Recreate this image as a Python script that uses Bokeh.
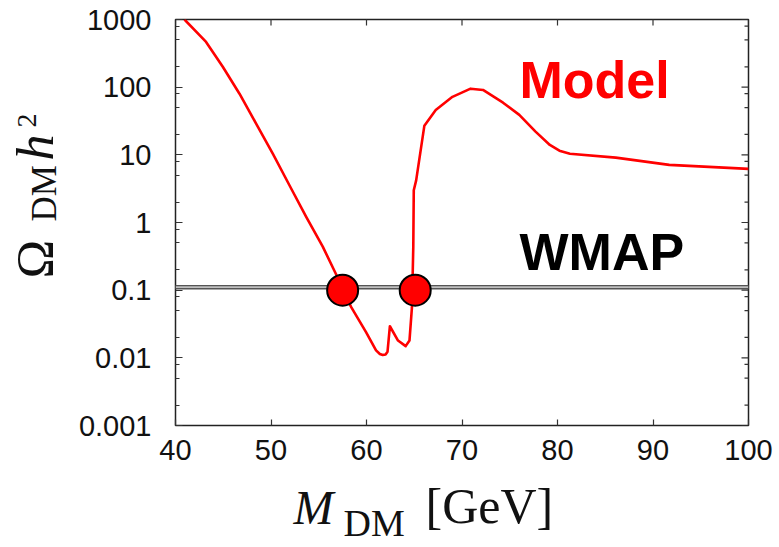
import math
from bokeh.plotting import figure
from bokeh.layouts import row, column
from bokeh.models import FixedTicker, Label, Range1d, Span, BoxAnnotation
from bokeh.embed import file_html
from bokeh.resources import INLINE

# ---------------- data ----------------
mass = [40.94, 43.2, 44.95, 46.7, 48.44, 50.2, 51.93, 53.7, 55.42, 56.8, 57.5, 58.4,
        59.95, 61.0, 61.4, 61.7, 62.0, 62.2, 62.45, 63.3, 64.1, 64.5, 64.76, 64.9, 64.95, 65.2,
        66.06, 67.25, 69.0, 70.9, 72.2, 74.3, 76.0, 77.7, 79.2, 80.2, 81.3, 86.1, 91.7, 100.0]
omega = [1000, 466, 200, 80, 29, 10.3, 3.55, 1.2, 0.44, 0.173, 0.1, 0.056,
         0.024, 0.0129, 0.0114, 0.011, 0.0112, 0.0123, 0.0293, 0.018, 0.0149, 0.018, 0.056, 0.44, 3.0, 4.2,
         27, 46, 72, 95, 91, 59, 39, 22, 14, 11.5, 10.4, 9.1, 7.1, 6.2]

wmap_low = 0.105
wmap_high = 0.117

match_mass = [57.5, 65.1]
match_omega = [0.1, 0.1]

x_ticks = [40, 50, 60, 70, 80, 90, 100]
x_tick_labels = ["40", "50", "60", "70", "80", "90", "100"]
y_ticks = [0.001, 0.01, 0.1, 1, 10, 100, 1000]
y_tick_labels = ["0.001", "0.01", "0.1", "1", "10", "100", "1000"]
y_minor_mult = [2, 5, 8]
y_minor = [m * t for t in y_ticks[:-1] for m in y_minor_mult]

# ---------------- layout (canvas pixels) ----------------
W, H = 779, 547
LW = 75          # strip holding the rotated y title
BH = 72          # strip holding the x title
FL, FR, FT, FB = 173, 746, 19, 425
XMIN, XMAX = x_ticks[0], x_ticks[-1]
YMIN, YMAX = y_ticks[0], y_ticks[-1]
BASE_SHIFT = 0.385   # Bokeh label anchor correction (fraction of font size)


def xd(px):
    return XMIN + (px - FL) * (XMAX - XMIN) / (FR - FL)


def yd(py):
    d = math.log10(YMAX) - math.log10(YMIN)
    return 10 ** (math.log10(YMAX) - (py - FT) * d / (FB - FT))


p = figure(frame_width=FR - FL, frame_height=FB - FT,
           min_border_left=FL - LW, min_border_right=W - FR,
           min_border_top=FT, min_border_bottom=(H - BH) - FB,
           x_range=Range1d(XMIN, XMAX), y_range=Range1d(YMIN, YMAX),
           y_axis_type="log", output_backend="svg", toolbar_location=None)
p.grid.visible = False
p.outline_line_color = "#222222"
p.outline_line_width = 1.5
p.background_fill_color = "white"
p.border_fill_color = "white"

TICK_FONT = "Liberation Sans"
TICK_COLOR = "#333333"


def style_axis(ax, major_in, minor_in, standoff):
    ax.axis_line_color = None
    ax.major_tick_in = major_in
    ax.major_tick_out = 0
    ax.minor_tick_in = minor_in
    ax.minor_tick_out = 0
    ax.major_tick_line_color = TICK_COLOR
    ax.minor_tick_line_color = TICK_COLOR
    ax.major_tick_line_width = 1.2
    ax.minor_tick_line_width = 1.2
    ax.major_label_standoff = standoff
    ax.axis_label = None
    ax.major_label_text_font = TICK_FONT
    ax.major_label_text_font_size = "29px"
    ax.major_label_text_color = "#111111"


xa = p.xaxis[0]
xa.ticker = FixedTicker(ticks=x_ticks, minor_ticks=[])
xa.major_label_overrides = dict(zip(x_ticks, x_tick_labels))
style_axis(xa, 6, 0, 14)

ya = p.yaxis[0]
ya.ticker = FixedTicker(ticks=y_ticks, minor_ticks=y_minor)
ya.major_label_overrides = dict(zip(y_ticks, y_tick_labels))
style_axis(ya, 7, 4, 24)

# mirrored inward ticks on top and right edges (half of each dash is clipped by the frame)
p.scatter(x_ticks, [YMAX] * len(x_ticks), marker="dash", angle=math.pi / 2, size=12,
          line_color=TICK_COLOR, line_width=1.2)
p.scatter([XMAX] * len(y_ticks), y_ticks, marker="dash", size=14,
          line_color=TICK_COLOR, line_width=1.2)
p.scatter([XMAX] * len(y_minor), y_minor, marker="dash", size=8,
          line_color=TICK_COLOR, line_width=1.2)

# WMAP band
p.add_layout(BoxAnnotation(bottom=wmap_low, top=wmap_high, fill_color="#c0c0c0",
                           fill_alpha=1.0, line_color=None, level="underlay"))
for v in (wmap_low, wmap_high):
    p.add_layout(Span(location=v, dimension="width", line_color="#555555",
                      line_width=1.3, level="underlay"))

# model curve
p.line(mass, omega, line_color="#ff0000", line_width=2.6, line_join="round")
p.scatter(match_mass, match_omega, size=31, fill_color="#ff0000",
          line_color="#000000", line_width=2)

# in-plot texts (left edge x, baseline y in canvas px)
for txt, col, bx, by in (("Model", "#ff0000", 517, 100), ("WMAP", "#000000", 517, 272)):
    p.add_layout(Label(x=xd(bx), y=yd(by - BASE_SHIFT * 52), text=txt,
                       text_font="Liberation Sans", text_font_style="bold",
                       text_font_size="52px", text_color=col,
                       text_align="left", text_baseline="alphabetic"))

SERIF = "Liberation Serif"


def strip_fig(**kw):
    f = figure(x_axis_location=None, y_axis_location=None,
               output_backend="svg", toolbar_location=None, **kw)
    f.grid.visible = False
    f.outline_line_color = None
    f.background_fill_color = "white"
    f.border_fill_color = "white"
    return f


def lab(fig, bx, by, txt, size, style="normal", rotated=False):
    s = BASE_SHIFT * size
    if rotated:
        ax_, ay_, ang = bx - s, by, math.pi / 2
    else:
        ax_, ay_, ang = bx, by - s, 0.0
    fig.add_layout(Label(x=ax_, y=ay_, text=txt, text_font=SERIF,
                         text_font_size=f"{size}px", text_font_style=style,
                         text_color="#111111", angle=ang,
                         text_align="left", text_baseline="alphabetic"))


# y axis title strip (frame shares the main frame's rows; data units = canvas px)
left = strip_fig(frame_width=LW, frame_height=FB - FT,
                 min_border_left=0, min_border_right=0,
                 min_border_top=FT, min_border_bottom=H - FB,
                 x_range=Range1d(0, LW), y_range=Range1d(FB, FT))
lab(left, 55, 278, "Ω", 52, rotated=True)
lab(left, 57, 221, "DM", 35, rotated=True)
lab(left, 55, 160, "h", 52, "italic", rotated=True)
lab(left, 37, 127, "2", 28, rotated=True)

# x axis title strip (frame shares the main frame's columns; data units = canvas px)
bottom = strip_fig(frame_width=FR - FL, frame_height=BH,
                   min_border_left=FL - LW, min_border_right=W - FR,
                   min_border_top=0, min_border_bottom=0,
                   x_range=Range1d(FL, FR), y_range=Range1d(H, H - BH))
lab(bottom, 291, 525, "M", 48, "italic")
lab(bottom, 341, 537, "DM", 38)
lab(bottom, 423, 525, "[GeV]", 50)

layout = row(left, column(p, bottom, spacing=0), spacing=0)

open("out.html", "w").write(file_html(layout, INLINE))
